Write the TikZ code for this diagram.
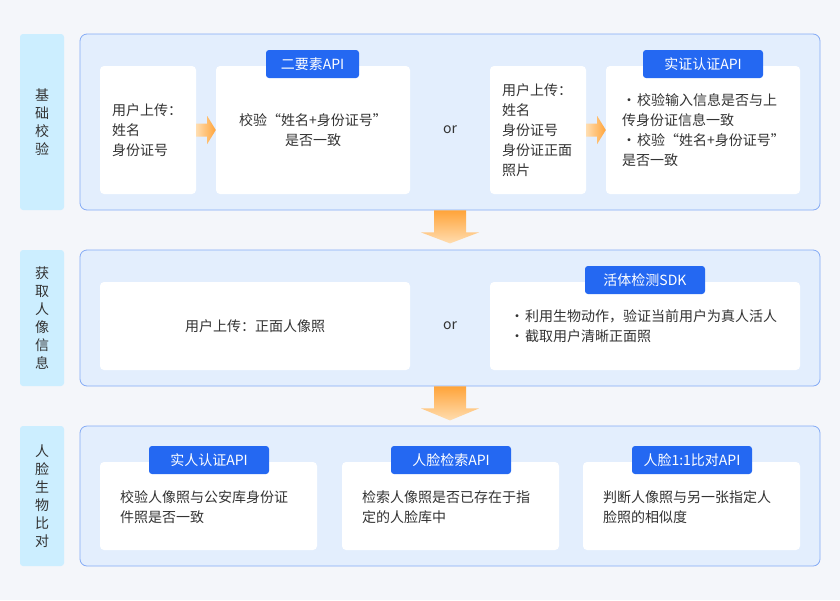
\documentclass[tikz,border=0pt]{standalone}
\usepackage{fontspec}
\setmainfont{Noto Sans CJK SC}
\usetikzlibrary{calc}
\definecolor{bgc}{HTML}{F4F6FA}
\definecolor{labelc}{HTML}{CCEEFF}
\definecolor{mainfill}{HTML}{E3EEFD}
\definecolor{mainline}{HTML}{85ABF5}
\definecolor{tagc}{HTML}{2468F2}
\definecolor{txtc}{HTML}{333333}
\definecolor{orng}{HTML}{FFA43A}
\definecolor{orngl}{HTML}{FFDDB0}
\begin{document}
\begin{tikzpicture}[x=1pt,y=-1pt,
  every node/.style={font=\fontsize{14pt}{20pt}\selectfont, text=txtc},
  labelbox/.style={fill=labelc, rounded corners=3pt, minimum width=44pt, align=center, inner sep=0pt,
    font=\fontsize{14pt}{18pt}\selectfont},
  mainbox/.style={fill=mainfill, draw=mainline, line width=0.8pt, rounded corners=7pt, minimum width=740pt, inner sep=0pt},
  whitebox/.style={fill=white, rounded corners=4pt, inner sep=0pt},
  tagbox/.style={fill=tagc, rounded corners=3pt, text=white, minimum height=28pt, inner sep=0pt},
  txt/.style={align=left, inner sep=0pt},
  ctxt/.style={align=center, inner sep=0pt},
  rarrow/.style={left color=orngl, right color=orng, draw=none},
  darrow/.style={top color=orng, bottom color=orngl, draw=none}
]
\useasboundingbox[fill=bgc] (0,0) rectangle (840,600);

% ---------- section 1 ----------
\node[labelbox, minimum height=176pt] (l1) at (42,122) {基\\础\\校\\验};
\node[mainbox, minimum height=176pt] (s1) at (450,122) {};
\node[whitebox, minimum width=96pt, minimum height=128pt] (a) at (148,130) {};
\node[whitebox, minimum width=194pt, minimum height=128pt] (b) at (313,130) {};
\node[whitebox, minimum width=96pt, minimum height=128pt] (c) at (538,130) {};
\node[whitebox, minimum width=194pt, minimum height=128pt] (d) at (703,130) {};
\node[tagbox, minimum width=93pt] (tb) at (312.5,64) {二要素API};
\node[tagbox, minimum width=120pt] (td) at (703,64) {实证认证API};
\node[txt, anchor=west] (ta) at (112,130) {用户上传：\\姓名\\身份证号};
\node[ctxt] (txb) at (313,130) {校验“姓名+身份证号”\\是否一致};
\node[ctxt] (or1) at (450,130) {or};
\node[txt, anchor=west] (tc) at (502,130) {用户上传：\\姓名\\身份证号\\身份证正面\\照片};
\node[txt, anchor=west] (txd) at (622,130) {·\hspace{1pt}校验输入信息是否与上\\传身份证信息一致\\·\hspace{1pt}校验“姓名+身份证号”\\是否一致};

\path[rarrow] ($(a.east)+(0,-6.5)$) -- ($(a.east)+(11,-6.5)$) -- ($(a.east)+(11,-14)$) -- (b.west)
  -- ($(a.east)+(11,14)$) -- ($(a.east)+(11,6.5)$) -- ($(a.east)+(0,6.5)$) -- cycle;
\path[rarrow] ($(c.east)+(0,-6.5)$) -- ($(c.east)+(11,-6.5)$) -- ($(c.east)+(11,-14)$) -- (d.west)
  -- ($(c.east)+(11,14)$) -- ($(c.east)+(11,6.5)$) -- ($(c.east)+(0,6.5)$) -- cycle;

% ---------- section 2 ----------
\node[labelbox, minimum height=136pt] (l2) at (42,318) {获\\取\\人\\像\\信\\息};
\node[mainbox, minimum height=136pt] (s2) at (450,318) {};
\node[whitebox, minimum width=310pt, minimum height=88pt] (e) at (255,326) {};
\node[whitebox, minimum width=310pt, minimum height=88pt] (f) at (645,326) {};
\node[tagbox, minimum width=120pt] (tf) at (645,280) {活体检测SDK};
\node[ctxt] (te) at (255,326) {用户上传：正面人像照};
\node[ctxt] (or2) at (450,326) {or};
\node[txt, anchor=west] (txf) at (510,326) {·\hspace{1pt}利用生物动作，验证当前用户为真人活人\\·\hspace{1pt}截取用户清晰正面照};

% ---------- section 3 ----------
\node[labelbox, minimum height=140pt] (l3) at (42,496) {人\\脸\\生\\物\\比\\对};
\node[mainbox, minimum height=140pt] (s3) at (450,496) {};
\node[whitebox, minimum width=217pt, minimum height=88pt] (g) at (208.5,506) {};
\node[whitebox, minimum width=217pt, minimum height=88pt] (h) at (450.5,506) {};
\node[whitebox, minimum width=217pt, minimum height=88pt] (k) at (691.5,506) {};
\node[tagbox, minimum width=120pt] (tg) at (209,460) {实人认证API};
\node[tagbox, minimum width=120pt] (th) at (451,460) {人脸检索API};
\node[tagbox, minimum width=120pt] (tk) at (692,460) {人脸1:1比对API};
\node[txt, anchor=west] (txg) at (120,507) {校验人像照与公安库身份证\\件照是否一致};
\node[txt, anchor=west] (txh) at (362,507) {检索人像照是否已存在于指\\定的人脸库中};
\node[txt, anchor=west] (txk) at (603,507) {判断人像照与另一张指定人\\脸照的相似度};

% ---------- down arrows ----------
\path[darrow] ($(s1.south)+(-16,0)$) -- ($(s1.south)+(16,0)$) -- ($(s1.south)+(16,22)$) -- ($(s1.south)+(29,22)$)
  -- ($(s1.south)+(0,33)$) -- ($(s1.south)+(-29,22)$) -- ($(s1.south)+(-16,22)$) -- cycle;
\path[darrow] ($(s2.south)+(-16,0)$) -- ($(s2.south)+(16,0)$) -- ($(s2.south)+(16,22)$) -- ($(s2.south)+(29,22)$)
  -- ($(s2.south)+(0,34)$) -- ($(s2.south)+(-29,22)$) -- ($(s2.south)+(-16,22)$) -- cycle;
\end{tikzpicture}
\end{document}
